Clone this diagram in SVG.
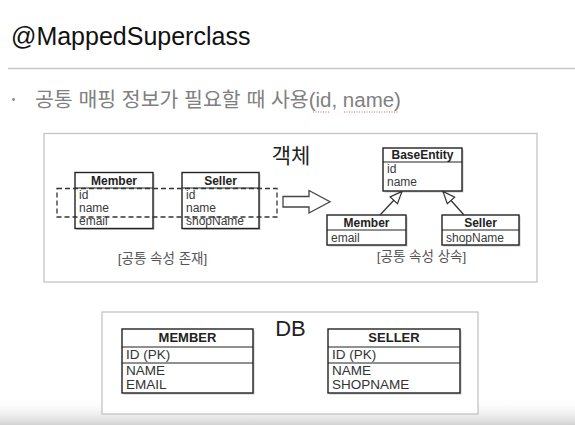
<svg xmlns="http://www.w3.org/2000/svg" width="575" height="425" viewBox="0 0 575 425">
  <defs>
    <linearGradient id="bottomShade" x1="0" y1="0" x2="0" y2="1">
      <stop offset="0" stop-color="#ffffff" stop-opacity="0"/>
      <stop offset="1" stop-color="#d2d2d2" stop-opacity="1"/>
    </linearGradient>
    <marker id="inherit" viewBox="0 0 14 12" refX="13" refY="6" markerWidth="14" markerHeight="12" markerUnits="userSpaceOnUse" orient="auto">
      <path d="M1,1 L13,6 L1,11 Z" fill="#fff" stroke="#333" stroke-width="1.2"/>
    </marker>
  </defs>
  <style>
    text { font-family: "Liberation Sans", "Noto Sans CJK KR", sans-serif; }
    .kr { font-family: "Liberation Sans", "Noto Sans CJK KR", sans-serif; }
    .frame { fill: #fff; stroke: #c4c4c4; stroke-width: 1.3; }
    .box { fill: #fff; stroke: #222; stroke-width: 1.4; }
    .shadow { fill: #9a9a9a; opacity: 0.55; }
    .div { stroke: #222; stroke-width: 1.2; }
    .hdr { font-size: 12px; font-weight: bold; fill: #222; text-anchor: middle; }
    .attr { font-size: 12px; fill: #3a3a3a; }
    .dbhdr { font-size: 13px; font-weight: bold; fill: #222; text-anchor: middle; }
    .dbattr { font-size: 13.5px; fill: #333; }
    .lbl { font-size: 13.5px; fill: #555; text-anchor: middle; }
    .edge { stroke: #333; stroke-width: 1.3; fill: none; }
  </style>

  <rect x="0" y="0" width="575" height="425" fill="#fff"/>
  <rect x="0" y="398" width="575" height="27" fill="url(#bottomShade)"/>

  <g id="header">
    <text x="11" y="45" font-size="25" fill="#111">@MappedSuperclass</text>
    <line x1="8" y1="68.5" x2="575" y2="68.5" stroke="#c8c8c8" stroke-width="1.5"/>
    <circle cx="13.5" cy="99.5" r="1.4" fill="#888"/>
    <text x="35" y="107" font-size="20.5" fill="#808080" class="kr">공통 매핑 정보가 필요할 때 사용(id, name)</text>
    <line x1="313" y1="112" x2="329" y2="112" stroke="#d96060" stroke-width="1" stroke-dasharray="1,1.5"/>
    <line x1="344" y1="112" x2="399" y2="112" stroke="#d96060" stroke-width="1" stroke-dasharray="1,1.5"/>
  </g>

  <g id="object-frame">
    <rect class="frame" x="44" y="133.5" width="493" height="148.5"/>
    <text x="291" y="163" font-size="21" fill="#222" text-anchor="middle" class="kr">객체</text>
    <text class="lbl" x="162.5" y="262.5">[공통 속성 존재]</text>
    <text class="lbl" x="421.5" y="261">[공통 속성 상속]</text>
  </g>

  <g id="member-obj">
    <rect class="shadow" x="76.5" y="174" width="78" height="56"/>
    <rect class="box" x="75" y="172.5" width="78" height="56"/>
    <line class="div" x1="75" y1="188" x2="153" y2="188"/>
    <text class="hdr" x="114" y="184.5">Member</text>
    <text class="attr" x="79" y="198.5">id</text>
    <text class="attr" x="79" y="211.5">name</text>
    <text class="attr" x="79" y="225">email</text>
  </g>

  <g id="seller-obj">
    <rect class="shadow" x="183.5" y="174" width="77" height="56"/>
    <rect class="box" x="182" y="172.5" width="77" height="56"/>
    <line class="div" x1="182" y1="188" x2="259" y2="188"/>
    <text class="hdr" x="220.5" y="184.5">Seller</text>
    <text class="attr" x="186" y="198.5">id</text>
    <text class="attr" x="186" y="211.5">name</text>
    <text class="attr" x="186" y="225">shopName</text>
  </g>

  <g id="common-highlight">
    <rect x="57" y="188.5" width="220" height="28.5" fill="none" stroke="#333" stroke-width="1.3" stroke-dasharray="5,3"/>
  </g>

  <g id="transform-arrow">
    <polygon points="283,196.5 309,196.5 309,190.5 330,201.8 309,213 309,207 283,207" fill="#fff" stroke="#444" stroke-width="1.3" stroke-linejoin="miter"/>
  </g>

  <g id="base-entity">
    <rect class="shadow" x="384.5" y="149.5" width="79" height="43"/>
    <rect class="box" x="383" y="148" width="79" height="43"/>
    <line class="div" x1="383" y1="162" x2="462" y2="162"/>
    <text class="hdr" x="422.5" y="158.5" font-size="11.5">BaseEntity</text>
    <text class="attr" x="387" y="173">id</text>
    <text class="attr" x="387" y="186">name</text>
  </g>

  <g id="member-sub">
    <rect class="shadow" x="328.5" y="216.5" width="79" height="30"/>
    <rect class="box" x="327" y="215" width="79" height="30"/>
    <line class="div" x1="327" y1="230" x2="406" y2="230"/>
    <text class="hdr" x="366.5" y="227">Member</text>
    <text class="attr" x="331" y="241.5">email</text>
  </g>

  <g id="seller-sub">
    <rect class="shadow" x="443.5" y="216.5" width="77" height="30"/>
    <rect class="box" x="442" y="215" width="77" height="30"/>
    <line class="div" x1="442" y1="230" x2="519" y2="230"/>
    <text class="hdr" x="480.5" y="227">Seller</text>
    <text class="attr" x="446" y="241.5">shopName</text>
  </g>

  <g id="connectors">
    <line class="edge" x1="380" y1="215" x2="402" y2="191.5" marker-end="url(#inherit)"/>
    <line class="edge" x1="464" y1="215" x2="443" y2="191.5" marker-end="url(#inherit)"/>
  </g>

  <g id="db-frame">
    <rect class="frame" x="102" y="312" width="376" height="102"/>
    <text x="290.5" y="336" font-size="22" fill="#222" text-anchor="middle">DB</text>
  </g>

  <g id="member-table">
    <rect class="shadow" x="123.5" y="330.5" width="131" height="64"/>
    <rect class="box" x="122" y="329" width="131" height="64"/>
    <line class="div" x1="122" y1="347" x2="253" y2="347"/>
    <line class="div" x1="122" y1="363" x2="253" y2="363"/>
    <text class="dbhdr" x="187.5" y="342">MEMBER</text>
    <text class="dbattr" x="126" y="359">ID (PK)</text>
    <text class="dbattr" x="126" y="374.5">NAME</text>
    <text class="dbattr" x="126" y="388.5">EMAIL</text>
  </g>

  <g id="seller-table">
    <rect class="shadow" x="329.5" y="330.5" width="132" height="64"/>
    <rect class="box" x="328" y="329" width="132" height="64"/>
    <line class="div" x1="328" y1="347" x2="460" y2="347"/>
    <line class="div" x1="328" y1="363" x2="460" y2="363"/>
    <text class="dbhdr" x="394" y="342">SELLER</text>
    <text class="dbattr" x="332" y="359">ID (PK)</text>
    <text class="dbattr" x="332" y="374.5">NAME</text>
    <text class="dbattr" x="332" y="388.5">SHOPNAME</text>
  </g>
</svg>
